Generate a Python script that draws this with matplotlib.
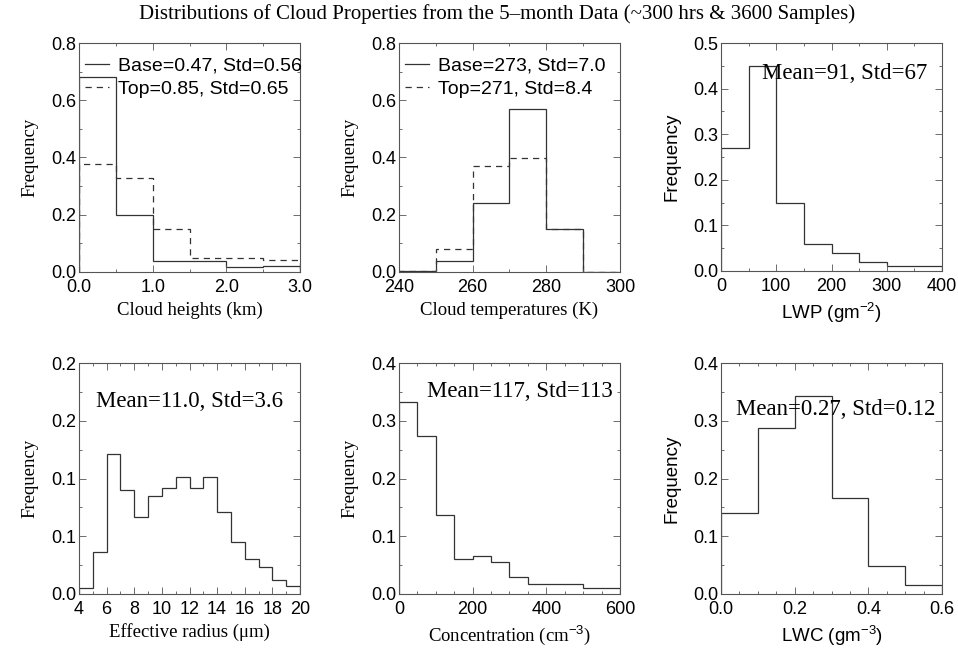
import matplotlib
matplotlib.use("Agg")
import matplotlib.pyplot as plt
import numpy as np
from matplotlib.ticker import MultipleLocator, FixedLocator, FixedFormatter

plt.rcParams["font.family"] = "Liberation Sans"
plt.rcParams["mathtext.fontset"] = "custom"
plt.rcParams["mathtext.rm"] = "Liberation Sans"
plt.rcParams["mathtext.it"] = "Liberation Sans:italic"

SERIF = "Liberation Serif"
LINE = "#333333"

## bin edges + frequencies
height_edges = [0.0, 0.5, 1.0, 1.5, 2.0, 2.5, 3.0]
height_base = [0.68, 0.20, 0.04, 0.037, 0.018, 0.02]
height_top = [0.377, 0.33, 0.15, 0.049, 0.049, 0.041]

temp_edges = [240, 250, 260, 270, 280, 290, 300]
temp_base = [0.005, 0.04, 0.24, 0.57, 0.15, 0.0]
temp_top = [0.005, 0.08, 0.37, 0.40, 0.15, 0.0]

lwp_edges = [0, 50, 100, 150, 200, 250, 300, 350, 400]
lwp_freq = [0.27, 0.45, 0.15, 0.06, 0.04, 0.02, 0.01, 0.01]

reff_edges = list(range(4, 21))
reff_freq = [0.005, 0.036, 0.121, 0.090, 0.067, 0.085, 0.092, 0.101,
             0.092, 0.101, 0.071, 0.045, 0.030, 0.023, 0.0125, 0.007]

conc_edges = [0, 50, 100, 150, 200, 250, 300, 350, 400, 450, 500, 550, 600]
conc_freq = [0.332, 0.273, 0.137, 0.060, 0.066, 0.055, 0.030, 0.0175,
             0.0175, 0.0175, 0.0105, 0.0105]

lwc_edges = [0.0, 0.1, 0.2, 0.3, 0.4, 0.5, 0.6]
lwc_freq = [0.141, 0.288, 0.342, 0.167, 0.048, 0.015]

W, H = 958, 649
fig = plt.figure(figsize=(W / 100, H / 100), dpi=100)


def make_ax(left, top, bottom, width=221):
    return fig.add_axes([left / W, (H - bottom) / H, width / W, (bottom - top) / H])


def style(ax, xlim, xmaj, xmin, ylim, ymaj, ymin):
    ax.set_xlim(*xlim)
    ax.set_ylim(*ylim)
    ax.xaxis.set_major_locator(MultipleLocator(xmaj))
    ax.xaxis.set_minor_locator(MultipleLocator(xmin))
    ax.yaxis.set_major_locator(MultipleLocator(ymaj))
    ax.yaxis.set_minor_locator(MultipleLocator(ymin))
    ax.tick_params(which="both", direction="in", top=True, right=True,
                   color="#555555", width=0.6, labelsize=13)
    ax.tick_params(axis="x", pad=5)
    ax.tick_params(axis="y", pad=2)
    ax.tick_params(which="major", length=5)
    ax.tick_params(which="minor", length=2.5)
    for s in ax.spines.values():
        s.set_color("#555555")
        s.set_linewidth(0.8)


dash = (0, (5, 4))
ann = dict(fontsize=16.5, family=SERIF, va="center", ha="center")
ylab = dict(fontsize=13.5, labelpad=9)

# cloud heights
ax1 = make_ax(79, 43, 272)
ax1.stairs(height_base, height_edges, color=LINE, lw=0.9, label="Base=0.47, Std=0.56")
ax1.stairs(height_top, height_edges, color=LINE, lw=0.9, ls=dash, label="Top=0.85, Std=0.65")
style(ax1, (0, 3), 1, 0.5, (0, 0.8), 0.2, 0.1)
ax1.xaxis.set_major_formatter(plt.FormatStrFormatter("%.1f"))
ax1.set_xlabel("Cloud heights (km)", family=SERIF, fontsize=13.5)
ax1.set_ylabel("Frequency", family=SERIF, **ylab)

# cloud temperatures
ax2 = make_ax(399, 43, 272)
ax2.stairs(temp_base, temp_edges, color=LINE, lw=0.9, label="Base=273, Std=7.0")
ax2.stairs(temp_top, temp_edges, color=LINE, lw=0.9, ls=dash, label="Top=271, Std=8.4")
style(ax2, (240, 300), 20, 10, (0, 0.8), 0.2, 0.1)
ax2.set_xlabel("Cloud temperatures (K)", family=SERIF, fontsize=13.5)
ax2.set_ylabel("Frequency", family=SERIF, **ylab)

for ax in (ax1, ax2):
    ax.legend(loc="upper left", bbox_to_anchor=(0, 0.965), frameon=False,
              fontsize=14, handlelength=1.25, handletextpad=0.45,
              labelspacing=0.3, borderpad=0.2, borderaxespad=0.1)

# LWP
ax3 = make_ax(721, 43, 271)
ax3.stairs(lwp_freq, lwp_edges, color=LINE, lw=0.9)
style(ax3, (0, 400), 100, 50, (0, 0.5), 0.1, 0.05)
ax3.text(0.56, 0.865, "Mean=91, Std=67", transform=ax3.transAxes, **ann)
ax3.set_xlabel("LWP (gm$^{-2}$)", fontsize=13.5)
ax3.set_ylabel("Frequency", **ylab)

# effective radius
ax4 = make_ax(79, 363, 594)
ax4.stairs(reff_freq, reff_edges, color=LINE, lw=0.9)
style(ax4, (4, 20), 2, 1, (0, 0.2), 0.05, 0.025)
ax4.yaxis.set_major_locator(FixedLocator([0.0, 0.05, 0.1, 0.15, 0.2]))
ax4.yaxis.set_major_formatter(FixedFormatter(["0.0", "0.1", "0.1", "0.2", "0.2"]))
ax4.text(0.5, 0.835, "Mean=11.0, Std=3.6", transform=ax4.transAxes, **ann)
ax4.set_xlabel("Effective radius (μm)", family=SERIF, fontsize=13.5)
ax4.set_ylabel("Frequency", family=SERIF, **ylab)

# concentration
ax5 = make_ax(399, 363, 594)
ax5.stairs(conc_freq, conc_edges, color=LINE, lw=0.9)
style(ax5, (0, 600), 200, 50, (0, 0.4), 0.1, 0.05)
ax5.text(0.545, 0.875, "Mean=117, Std=113", transform=ax5.transAxes, **ann)
ax5.set_xlabel("Concentration (cm$^{-3}$)", family=SERIF, fontsize=13.5)
ax5.set_ylabel("Frequency", family=SERIF, **ylab)

# LWC
ax6 = make_ax(721, 363, 594)
ax6.stairs(lwc_freq, lwc_edges, color=LINE, lw=0.9)
style(ax6, (0, 0.6), 0.2, 0.05, (0, 0.4), 0.1, 0.05)
ax6.text(0.518, 0.80, "Mean=0.27, Std=0.12", transform=ax6.transAxes, **ann)
ax6.set_xlabel("LWC (gm$^{-3}$)", fontsize=13.5)
ax6.set_ylabel("Frequency", **ylab)

fig.text(497 / W, 1 - 14 / H, "Distributions of Cloud Properties from the 5\u2013month Data (~300 hrs & 3600 Samples)",
         ha="center", va="center", family=SERIF, fontsize=15)

fig.savefig("out.png", dpi=100)
